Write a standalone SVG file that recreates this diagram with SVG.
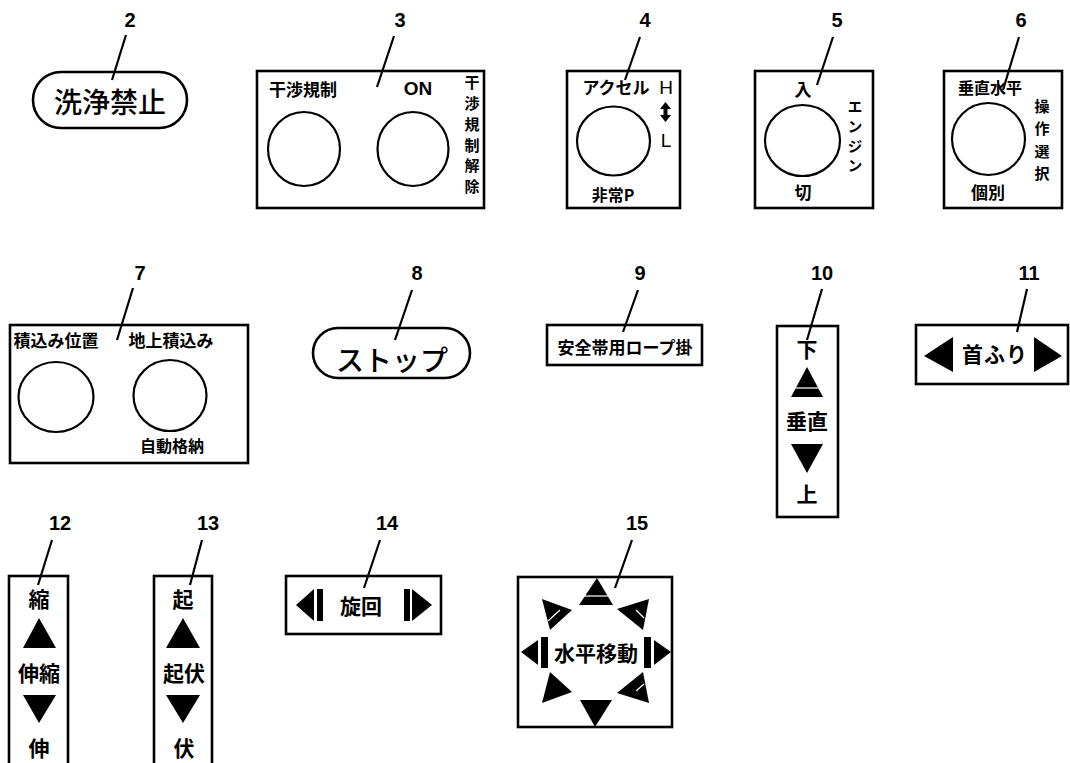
<svg xmlns="http://www.w3.org/2000/svg" width="1070" height="763" viewBox="0 0 1070 763">
<style>
.box{fill:none;stroke:#000;stroke-width:2.6}
.knob{fill:none;stroke:#000;stroke-width:2.2}
.lead{stroke:#000;stroke-width:2.2;fill:none}
.num{font-family:"Liberation Sans",Arial,sans-serif;font-weight:700;font-size:20px;text-anchor:middle;fill:#000}
.jp{font-family:"Noto Sans CJK JP","Noto Sans",sans-serif;font-weight:700;font-size:17px;fill:#000;text-anchor:middle}
.jv{font-family:"Noto Sans CJK JP","Noto Sans",sans-serif;font-weight:700;font-size:16px;fill:#000;text-anchor:middle}
.vt{font-family:"Noto Sans CJK JP","Noto Sans",sans-serif;font-weight:700;font-size:15px;fill:#000;writing-mode:vertical-rl;text-anchor:start}
.jl{font-family:"Noto Sans CJK JP","Noto Sans",sans-serif;font-weight:700;font-size:21px;fill:#000;text-anchor:middle}
.big{font-family:"Noto Sans CJK JP","Noto Sans",sans-serif;font-weight:500;font-size:28px;fill:#000;text-anchor:middle}
.lat{font-family:"Liberation Sans",Arial,sans-serif;font-size:19px;fill:#000;text-anchor:middle}
.tri{fill:#000;stroke:none}
.gap{stroke:#fff;stroke-width:1.2}
</style>
<rect width="1070" height="763" fill="#fff"/>

<g id="connectors">
<line class="lead" x1="126" y1="35" x2="112" y2="80"/>
<line class="lead" x1="394" y1="36" x2="377" y2="87"/>
<line class="lead" x1="640" y1="37" x2="625" y2="80"/>
<line class="lead" x1="833" y1="37" x2="817" y2="85"/>
<line class="lead" x1="1019" y1="37" x2="1003" y2="90"/>
<line class="lead" x1="133" y1="288" x2="117" y2="340"/>
<line class="lead" x1="412" y1="290" x2="395" y2="340"/>
<line class="lead" x1="638" y1="290" x2="623" y2="332"/>
<line class="lead" x1="822" y1="289" x2="807" y2="340"/>
<line class="lead" x1="1027" y1="289" x2="1017" y2="332"/>
<line class="lead" x1="52" y1="540" x2="38" y2="585"/>
<line class="lead" x1="202" y1="540" x2="190" y2="585"/>
<line class="lead" x1="380" y1="540" x2="364" y2="588"/>
<line class="lead" x1="632" y1="540" x2="615" y2="588"/>
</g>

<g id="p2">
<text class="num" x="130" y="27">2</text>
<rect class="box" x="33" y="72" width="154" height="56" rx="28" stroke-width="2.2"/>
<text class="big" x="110" y="113">洗浄禁止</text>
</g>

<g id="p3">
<text class="num" x="400" y="27">3</text>
<rect class="box" x="257" y="71" width="227" height="137"/>
<text class="jp" x="303" y="96">干渉規制</text>
<text class="lat" x="418" y="95" font-weight="700">ON</text>
<ellipse class="knob" cx="304" cy="149" rx="36" ry="37"/>
<ellipse class="knob" cx="413" cy="149" rx="35.5" ry="37"/>
<text class="vt" x="472" y="75" letter-spacing="5.8">干渉規制解除</text>
</g>

<g id="p4">
<text class="num" x="645" y="27">4</text>
<rect class="box" x="567" y="71" width="113" height="137"/>
<text class="jp" x="616" y="94">アクセル</text>
<text class="lat" x="666" y="94">H</text>
<polygon class="tri" points="665.5,102 671,109 667.5,109 667.5,115 671,115 665.5,122 660,115 663.5,115 663.5,109 660,109"/>
<text class="lat" x="666" y="147">L</text>
<ellipse class="knob" cx="613.5" cy="141" rx="36.5" ry="34.5"/>
<text class="jv" x="613" y="201">非常P</text>
</g>

<g id="p5">
<text class="num" x="837" y="27">5</text>
<rect class="box" x="755" y="71" width="118" height="137"/>
<text class="jp" x="803" y="96">入</text>
<ellipse class="knob" cx="802.5" cy="140.5" rx="37.5" ry="35.5"/>
<text class="vt" x="855" y="99" font-size="16" letter-spacing="4.7">エンジン</text>
<text class="jp" x="803" y="199">切</text>
</g>

<g id="p6">
<text class="num" x="1021" y="27">6</text>
<rect class="box" x="944" y="71" width="118" height="137"/>
<text class="jv" x="990" y="94">垂直水平</text>
<ellipse class="knob" cx="988.5" cy="139" rx="36.5" ry="36"/>
<text class="vt" x="1042" y="99" font-size="16" letter-spacing="7.3">操作選択</text>
<text class="jp" x="988" y="199">個別</text>
</g>

<g id="p7">
<text class="num" x="140" y="280">7</text>
<rect class="box" x="10" y="325" width="238" height="138"/>
<text class="jp" x="56" y="347">積込み位置</text>
<text class="jp" x="171" y="347">地上積込み</text>
<ellipse class="knob" cx="56" cy="397" rx="37.5" ry="35"/>
<ellipse class="knob" cx="170" cy="395.5" rx="36.5" ry="35.5"/>
<text class="jv" x="172" y="452">自動格納</text>
</g>

<g id="p8">
<text class="num" x="417" y="280">8</text>
<rect class="box" x="313" y="328" width="157" height="50" rx="25" stroke-width="2.2"/>
<text class="big" x="392" y="371" font-size="27">ストップ</text>
</g>

<g id="p9">
<text class="num" x="640" y="280">9</text>
<rect class="box" x="547" y="325" width="155" height="40"/>
<text class="jp" x="625" y="354">安全帯用ロープ掛</text>
</g>

<g id="p10">
<text class="num" x="822" y="280">10</text>
<rect class="box" x="777" y="326" width="61" height="191"/>
<text class="jl" x="807" y="357">下</text>
<polygon class="tri" points="807,367 823,397 791,397"/>
<line class="gap" x1="795" y1="388" x2="819" y2="388"/>
<text class="jl" x="807" y="429">垂直</text>
<polygon class="tri" points="791,444 823,444 807,473"/>
<text class="jl" x="807" y="502">上</text>
</g>

<g id="p11">
<text class="num" x="1029" y="280">11</text>
<rect class="box" x="916" y="325" width="152" height="59"/>
<polygon class="tri" points="924,356 953,337 953,372"/>
<text class="jl" x="995" y="362" letter-spacing="1">首ふり</text>
<polygon class="tri" points="1034,337 1062,356 1034,372"/>
</g>

<g id="p12">
<text class="num" x="60" y="530">12</text>
<rect class="box" x="9" y="576" width="59" height="200"/>
<text class="jl" x="39" y="607">縮</text>
<polygon class="tri" points="39,618 56,648 23,648"/>
<text class="jl" x="39" y="681">伸縮</text>
<polygon class="tri" points="23,695 56,695 39,723"/>
<text class="jl" x="39" y="756">伸</text>
</g>

<g id="p13">
<text class="num" x="208" y="530">13</text>
<rect class="box" x="154" y="576" width="58" height="200"/>
<text class="jl" x="183" y="607">起</text>
<polygon class="tri" points="183,618 200,648 166,648"/>
<text class="jl" x="184" y="681">起伏</text>
<polygon class="tri" points="166,695 200,695 183,723"/>
<text class="jl" x="184" y="756">伏</text>
</g>

<g id="p14">
<text class="num" x="387" y="530">14</text>
<rect class="box" x="286" y="576" width="155" height="58"/>
<polygon class="tri" points="296,605 314,589 314,621"/>
<rect class="tri" x="317" y="589" width="6" height="32"/>
<text class="jl" x="361" y="614" font-size="19">旋回</text>
<rect class="tri" x="404" y="589" width="6" height="32"/>
<polygon class="tri" points="412,589 432,605 412,621"/>
</g>

<g id="p15">
<text class="num" x="637" y="530">15</text>
<rect class="box" x="518" y="577" width="154" height="150"/>
<polygon class="tri" points="597,578 613,605 579,605"/>
<line class="gap" x1="583" y1="596" x2="610" y2="596"/>
<polygon class="tri" points="542,599 572,610 550,630"/>
<line class="gap" x1="548" y1="621" x2="560" y2="610"/>
<polygon class="tri" points="649,599 617,609 643,630"/>
<line class="gap" x1="636" y1="610" x2="644" y2="618"/>
<polygon class="tri" points="521,652 538,640 538,665"/>
<rect class="tri" x="541" y="637" width="7" height="31"/>
<text class="jl" x="596" y="661">水平移動</text>
<rect class="tri" x="644" y="637" width="7" height="31"/>
<polygon class="tri" points="654,640 671,652 654,665"/>
<polygon class="tri" points="542,703 572,692 550,672"/>
<polygon class="tri" points="649,703 617,693 643,672"/>
<line class="gap" x1="636" y1="691" x2="644" y2="684"/>
<polygon class="tri" points="580,700 612,700 595,727"/>
</g>
</svg>
